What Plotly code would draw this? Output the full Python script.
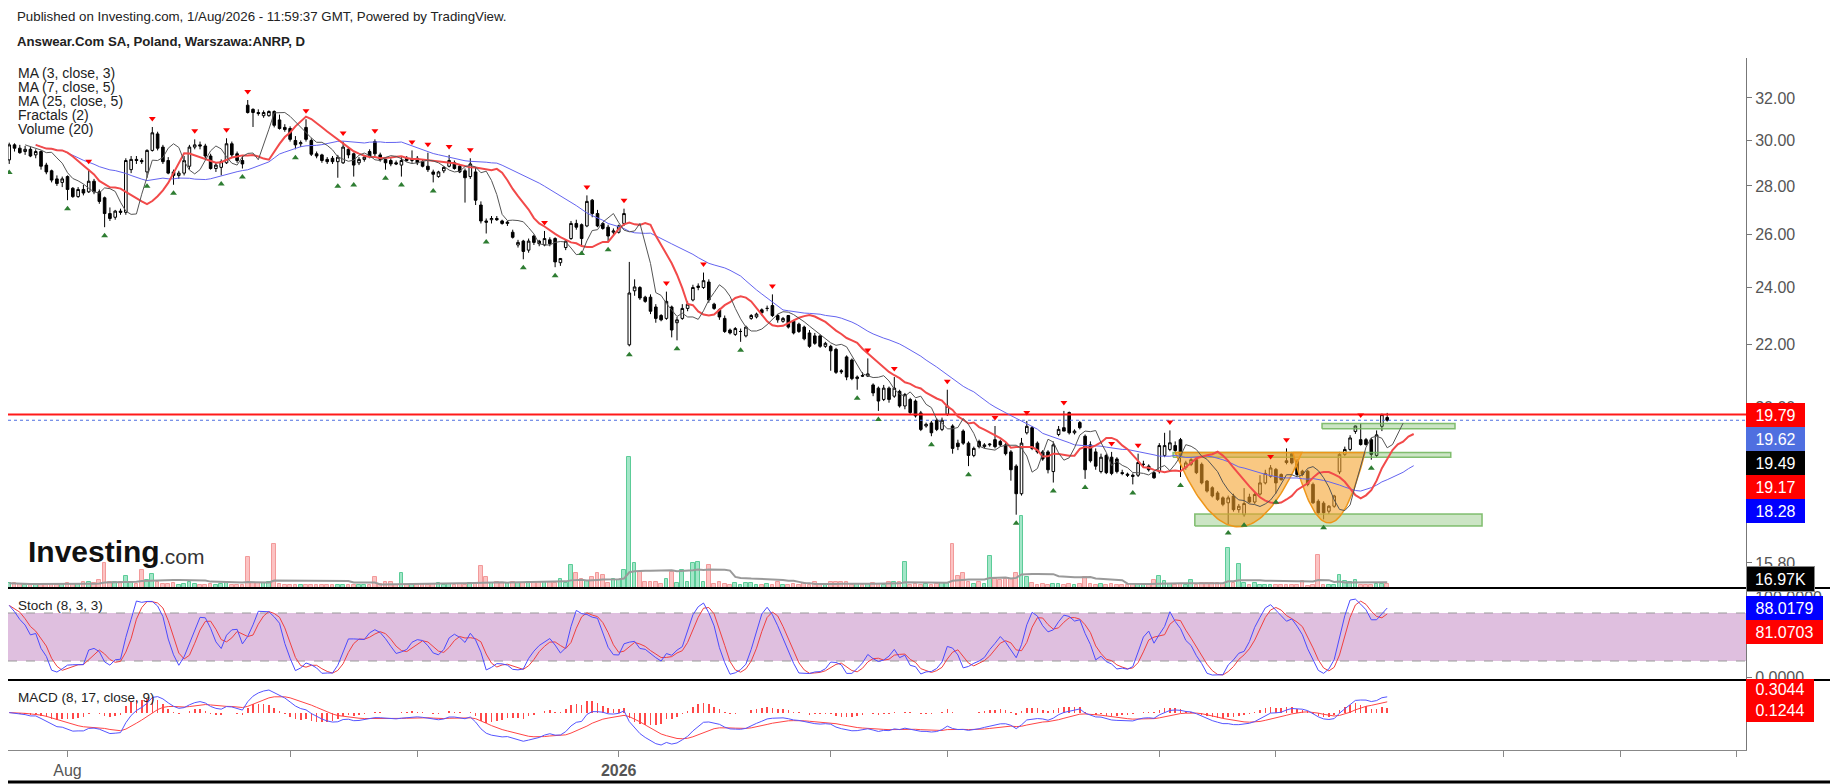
import numpy as np
import pandas as pd
import plotly.graph_objects as go

# daily candles, Answear.Com SA (ANRP), mid Jul 2025 -> end Jul 2026
opens = [
    29.13, 29.80, 29.65, 29.50, 29.60, 29.35, 29.50, 28.90, 28.65, 28.30,  # 0
    28.15, 28.40, 27.90, 27.55, 27.85, 27.75, 28.20, 27.75, 27.50, 26.85,  # 10
    26.70, 26.95, 26.90, 28.70, 29.15, 29.10, 28.60, 29.55, 30.30, 29.70,  # 20
    29.10, 28.60, 28.45, 28.55, 28.85, 29.70, 29.80, 29.75, 29.30, 28.75,  # 30
    28.80, 29.00, 29.85, 29.40, 29.10, 31.65, 31.45, 31.30, 31.15, 31.15,  # 40
    31.35, 30.95, 30.60, 30.55, 30.00, 29.85, 30.60, 30.00, 29.40, 29.35,  # 50
    29.15, 29.20, 29.05, 29.00, 29.60, 29.40, 29.00, 29.15, 29.50, 29.95,  # 60
    29.35, 29.15, 29.10, 29.00, 28.90, 29.20, 29.10, 29.20, 29.05, 28.85,  # 70
    28.60, 28.40, 28.65, 28.85, 29.00, 28.85, 28.65, 28.40, 28.60, 27.20,  # 80
    26.55, 26.60, 26.65, 26.55, 26.45, 26.10, 25.60, 25.75, 25.40, 25.95,  # 90
    25.75, 25.60, 25.80, 25.85, 24.92, 25.50, 25.85, 26.45, 26.40, 26.35,  # 100
    27.40, 26.85, 26.45, 26.30, 26.10, 26.10, 26.45, 22.00, 23.88, 24.00,  # 110
    23.65, 23.65, 23.30, 23.00, 22.90, 23.30, 22.75, 22.90, 23.25, 23.55,  # 120
    24.00, 24.00, 24.20, 23.40, 23.20, 22.90, 22.50, 22.35, 22.45, 22.30,  # 130
    22.90, 22.95, 23.20, 23.25, 23.35, 23.00, 22.80, 23.00, 22.80, 22.70,  # 140
    22.60, 22.40, 22.30, 22.30, 21.95, 21.95, 21.85, 21.15, 21.60, 21.50,  # 150
    20.90, 21.00, 20.98, 20.70, 20.60, 20.25, 20.60, 20.35, 20.50, 20.05,  # 160
    20.25, 20.20, 19.84, 19.45, 19.54, 19.62, 19.35, 19.80, 19.45, 18.95,  # 170
    19.30, 18.95, 18.60, 19.00, 18.85, 18.90, 19.05, 19.00, 18.90, 18.70,  # 180
    18.30, 17.55, 19.25, 19.40, 18.95, 18.70, 18.70, 18.15, 19.20, 19.40,  # 190
    19.85, 19.25, 19.55, 19.15, 18.90, 18.70, 18.15, 18.60, 18.55, 18.50,  # 200
    18.12, 18.08, 18.05, 18.05, 18.35, 18.30, 18.12, 18.15, 18.60, 18.77,  # 210
    18.88, 19.05, 18.26, 18.35, 18.48, 18.35, 17.89, 17.71, 17.57, 17.44,  # 220
    17.31, 17.49, 17.13, 17.00, 17.46, 17.33, 17.54, 17.84, 18.02, 18.21,  # 230
    18.07, 18.45, 18.65, 18.44, 18.16, 18.16, 17.80, 17.35, 17.30, 17.09,  # 240
    17.22, 18.14, 18.63, 18.77, 19.29, 19.05, 19.05, 19.05, 18.60, 19.44,  # 250
    19.70,
]
highs = [
    29.90, 29.87, 29.80, 29.75, 29.70, 29.60, 29.55, 29.00, 28.70, 28.45,
    28.40, 28.45, 27.95, 27.95, 28.05, 28.70, 28.30, 27.85, 27.55, 27.10,
    27.00, 27.05, 29.20, 29.30, 29.30, 29.20, 29.60, 30.62, 30.40, 29.80,
    29.25, 28.70, 28.65, 29.30, 29.80, 30.05, 29.95, 29.85, 29.40, 29.00,
    29.15, 30.10, 29.95, 29.50, 29.30, 31.90, 31.50, 31.45, 31.40, 31.40,
    31.40, 31.20, 30.75, 30.65, 30.20, 30.00, 30.98, 30.10, 29.50, 29.40,
    29.25, 29.30, 29.35, 29.95, 29.70, 29.45, 29.25, 29.35, 29.60, 30.05,
    29.45, 29.20, 29.20, 29.10, 29.25, 29.30, 29.55, 29.30, 29.15, 29.45,
    28.70, 28.65, 28.85, 29.35, 29.10, 28.95, 28.75, 29.20, 28.80, 27.35,
    26.65, 26.75, 26.75, 26.60, 26.55, 26.20, 25.80, 25.80, 25.85, 26.00,
    25.80, 26.15, 25.90, 25.90, 25.10, 25.80, 26.55, 26.60, 26.45, 27.60,
    27.45, 27.00, 26.50, 26.40, 26.25, 26.40, 27.05, 24.95, 24.30, 24.05,
    23.70, 23.75, 23.40, 23.05, 23.85, 23.35, 22.95, 23.40, 23.50, 24.10,
    24.15, 24.55, 24.30, 23.45, 23.25, 23.00, 22.55, 22.60, 22.55, 22.65,
    23.05, 23.10, 23.25, 23.35, 23.75, 23.05, 22.95, 23.02, 22.85, 22.75,
    22.65, 22.50, 22.40, 22.35, 22.10, 22.00, 21.90, 21.20, 21.65, 21.55,
    21.00, 21.10, 21.55, 20.75, 20.65, 20.70, 20.65, 20.95, 20.55, 20.45,
    20.30, 20.25, 19.90, 19.55, 19.60, 19.68, 19.70, 20.55, 19.50, 19.05,
    19.35, 19.00, 18.85, 19.05, 18.95, 18.95, 19.45, 19.05, 18.95, 18.75,
    18.35, 19.10, 19.60, 19.45, 19.00, 18.75, 18.75, 19.00, 19.45, 19.90,
    19.88, 19.35, 19.60, 19.20, 19.00, 18.80, 18.65, 18.65, 18.70, 18.55,
    18.20, 18.12, 18.10, 18.65, 18.45, 18.35, 18.15, 18.95, 19.25, 19.32,
    19.00, 19.10, 18.45, 18.52, 18.52, 18.40, 17.92, 17.75, 17.62, 17.48,
    17.50, 17.55, 17.28, 17.70, 17.55, 17.58, 18.05, 18.20, 18.33, 18.25,
    18.10, 18.80, 18.70, 18.50, 18.20, 18.20, 17.85, 17.40, 17.35, 17.25,
    17.52, 18.70, 18.85, 19.18, 19.46, 19.52, 19.10, 19.10, 19.32, 19.82,
    19.84,
]
lows = [
    28.95, 29.50, 29.40, 29.35, 29.25, 29.20, 28.70, 28.50, 28.15, 28.00,
    27.95, 27.40, 27.50, 27.50, 27.60, 27.70, 27.65, 27.25, 26.30, 26.55,
    26.60, 26.80, 26.80, 28.55, 28.95, 28.95, 28.35, 29.50, 29.55, 28.95,
    28.50, 28.05, 28.30, 28.45, 28.70, 29.60, 29.60, 29.20, 28.70, 28.60,
    28.45, 28.95, 29.25, 29.00, 28.75, 31.25, 30.62, 31.15, 31.05, 31.10,
    30.60, 30.50, 30.40, 29.95, 29.60, 29.70, 29.95, 29.30, 29.20, 29.00,
    28.95, 28.95, 28.35, 28.95, 29.20, 28.40, 28.90, 29.05, 29.20, 29.30,
    29.05, 28.70, 28.85, 28.90, 28.40, 29.05, 29.00, 28.90, 28.80, 28.60,
    28.15, 28.35, 28.55, 28.80, 28.70, 28.55, 27.30, 28.30, 27.20, 26.45,
    26.05, 26.45, 26.55, 26.40, 26.35, 25.85, 25.50, 25.05, 25.30, 25.60,
    25.55, 25.55, 25.55, 24.75, 24.80, 25.40, 25.80, 26.20, 25.60, 26.30,
    26.70, 26.30, 26.20, 25.75, 26.00, 26.05, 26.35, 21.95, 23.70, 23.55,
    23.45, 23.05, 22.75, 22.80, 22.85, 22.25, 22.15, 22.85, 23.15, 23.50,
    23.90, 23.95, 23.45, 23.20, 22.85, 22.40, 22.35, 22.30, 22.10, 22.25,
    22.85, 22.90, 23.00, 23.15, 22.95, 22.75, 22.75, 22.55, 22.35, 22.40,
    22.15, 21.90, 22.00, 21.90, 21.90, 21.15, 21.05, 21.05, 20.85, 20.85,
    20.55, 20.95, 20.95, 20.35, 19.90, 20.20, 20.15, 20.30, 20.00, 19.95,
    19.80, 19.70, 19.30, 19.40, 19.15, 19.30, 19.30, 19.75, 18.65, 18.75,
    18.90, 18.30, 18.55, 18.80, 18.80, 18.85, 18.80, 18.85, 18.60, 17.90,
    17.00, 17.50, 19.20, 18.75, 18.65, 18.45, 18.10, 17.85, 19.15, 19.30,
    19.20, 19.20, 19.35, 17.95, 18.40, 18.20, 18.10, 18.08, 18.05, 18.10,
    18.05, 18.00, 17.80, 18.00, 18.25, 18.15, 17.95, 18.10, 18.55, 18.72,
    18.70, 18.00, 18.20, 18.30, 18.08, 17.80, 17.58, 17.45, 17.36, 17.22,
    16.75, 17.08, 17.05, 16.95, 17.30, 17.28, 17.50, 17.80, 17.98, 17.55,
    17.90, 18.35, 18.35, 18.02, 18.02, 17.75, 17.28, 17.00, 16.88, 17.02,
    17.18, 18.08, 18.58, 18.72, 19.22, 18.88, 18.88, 18.48, 18.55, 19.30,
    19.58,
]
closes = [
    29.80, 29.65, 29.45, 29.60, 29.30, 29.50, 28.85, 28.60, 28.25, 28.10,
    28.30, 27.85, 27.55, 27.85, 27.70, 28.20, 27.75, 27.35, 26.85, 26.65,
    26.95, 26.90, 29.10, 29.15, 29.10, 29.05, 29.55, 30.35, 29.65, 29.05,
    28.55, 28.45, 28.55, 29.10, 29.70, 29.80, 29.75, 29.30, 28.75, 28.90,
    29.05, 29.85, 29.35, 29.10, 28.95, 31.30, 31.30, 31.25, 31.30, 31.35,
    30.70, 30.55, 30.50, 30.05, 29.80, 29.90, 30.05, 29.38, 29.30, 29.10,
    29.05, 29.05, 29.25, 29.70, 29.35, 28.90, 29.15, 29.25, 29.30, 29.40,
    29.15, 29.00, 28.95, 28.95, 29.10, 29.10, 29.15, 29.00, 28.85, 28.70,
    28.50, 28.60, 28.80, 29.10, 28.75, 28.60, 28.35, 28.95, 27.40, 26.55,
    26.50, 26.65, 26.60, 26.45, 26.50, 25.90, 25.70, 25.35, 25.75, 25.70,
    25.65, 25.85, 25.65, 24.95, 25.08, 25.75, 26.45, 26.30, 25.85, 27.35,
    26.85, 26.35, 26.25, 25.95, 26.15, 26.35, 26.85, 23.80, 24.02, 23.62,
    23.50, 23.15, 22.90, 22.85, 23.50, 22.50, 22.85, 23.25, 23.40, 24.00,
    24.05, 24.25, 23.55, 23.25, 22.95, 22.45, 22.40, 22.55, 22.45, 22.60,
    23.00, 23.05, 23.10, 23.25, 23.00, 22.85, 22.90, 22.60, 22.40, 22.45,
    22.20, 21.95, 22.05, 21.95, 22.05, 21.80, 21.10, 21.12, 20.95, 20.90,
    20.95, 20.98, 21.05, 20.45, 20.20, 20.60, 20.25, 20.60, 20.05, 20.40,
    19.85, 19.75, 19.35, 19.50, 19.25, 19.35, 19.62, 20.05, 18.80, 18.85,
    18.95, 18.60, 18.80, 18.85, 18.90, 18.92, 18.85, 18.90, 18.65, 18.20,
    17.55, 18.95, 19.44, 18.80, 18.70, 18.50, 18.20, 18.90, 19.35, 19.30,
    19.25, 19.30, 19.40, 18.20, 18.45, 18.30, 18.55, 18.12, 18.10, 18.15,
    18.10, 18.05, 18.02, 18.40, 18.35, 18.20, 17.98, 18.88, 18.88, 18.96,
    18.74, 18.60, 18.39, 18.48, 18.12, 17.84, 17.62, 17.49, 17.40, 17.27,
    17.44, 17.13, 17.22, 17.29, 17.33, 17.53, 17.84, 18.10, 18.25, 17.84,
    17.93, 18.40, 18.39, 18.07, 18.07, 17.80, 17.31, 17.05, 17.05, 17.22,
    17.49, 18.63, 18.77, 19.10, 19.45, 18.91, 18.91, 18.63, 19.19, 19.79,
    19.62,
]
# volume in thousands of shares
volumes_k = [
    9, 9, 8, 6, 6, 7, 7, 6, 7, 6,
    7, 9, 8, 8, 12, 12, 10, 16, 47, 12,
    11, 12, 23, 12, 8, 35, 15, 27, 12, 8,
    7, 9, 6, 8, 12, 7, 6, 6, 7, 6,
    7, 9, 6, 6, 6, 59, 10, 9, 9, 12,
    84, 8, 6, 6, 5, 6, 6, 5, 5, 6,
    5, 6, 6, 6, 5, 6, 6, 5, 6, 20,
    7, 12, 12, 6, 28, 6, 7, 6, 8, 6,
    7, 9, 6, 7, 6, 8, 6, 9, 10, 42,
    21, 10, 11, 9, 10, 11, 10, 9, 12, 12,
    11, 12, 12, 9, 17, 9, 44, 28, 18, 14,
    21, 28, 24, 10, 17, 16, 34, 249, 47, 30,
    12, 12, 11, 8, 18, 31, 10, 34, 12, 48,
    50, 12, 44, 8, 12, 8, 6, 9, 6, 9,
    9, 5, 6, 7, 6, 12, 5, 6, 7, 5,
    9, 6, 12, 8, 5, 12, 12, 11, 12, 6,
    7, 6, 8, 9, 7, 6, 12, 12, 11, 50,
    6, 7, 6, 8, 6, 7, 9, 9, 84, 23,
    29, 12, 7, 12, 8, 61, 17, 16, 18, 17,
    29, 137, 21, 9, 6, 7, 6, 8, 7, 6,
    7, 6, 8, 21, 7, 6, 8, 6, 7, 6,
    6, 6, 7, 8, 6, 7, 15, 23, 13, 8,
    6, 7, 6, 15, 6, 9, 10, 9, 10, 8,
    76, 9, 46, 10, 6, 10, 6, 6, 6, 5,
    5, 6, 5, 6, 13, 3, 6, 63, 6, 6,
    5, 24, 13, 12, 16, 5, 5, 5, 8, 8, 8,
]
# bars carrying a Williams fractal mark
up_fractals = [15, 27, 35, 41, 45, 56, 63, 69, 76, 79, 83, 87, 101, 109, 116, 124, 131,
               144, 162, 167, 177, 186, 192, 199, 208, 213, 219, 238, 241, 255]
down_fractals = [0, 11, 18, 26, 31, 40, 44, 54, 62, 65, 71, 74, 80, 90, 97, 103, 108, 113,
                 117, 126, 138, 160, 164, 174, 181, 190, 197, 203, 212, 221, 230, 233, 239,
                 248, 257]

# x axis ticks (bar index) and their labels
tick_pos = [11, 53, 77, 115, 155, 177, 217, 239, 282, 304, 326]
tick_text = ["Aug", "", "", "<b>2026</b>", "", "", "", "", "", "", ""]
price_ticks = [15.8, 20, 22, 24, 26, 28, 30, 32]

# drawings on the chart
resistance = 19.79
last_close = 19.62
zone_x0 = [247.7, 219.6, 223.7]
zone_x1 = [272.8, 272.0, 277.9]
zone_lo = [19.37, 18.55, 16.71]
zone_hi = [19.52, 18.68, 17.02]
cup_x0 = [220.0, 242.2]
cup_x1 = [243.9, 255.8]
cup_rim = [18.68, 18.68]
cup_bottom = [16.69, 16.79]

# last value labels on the right scale
main_labels = ["19.79", "19.62", "19.49", "19.17", "18.28"]
main_label_bg = ["#ff0000", "#4f6fe0", "#000000", "#ff0000", "#0000ff"]
volume_label = "16.97K"
stoch_labels = ["88.0179", "81.0703"]
stoch_label_bg = ["#0000ff", "#ff0000"]
macd_labels = ["0.3044", "0.1244"]

n = len(closes)
assert len(opens) == n and len(highs) == n and len(lows) == n and len(volumes_k) == n
idx = np.arange(n)

# ---- indicators
c = pd.Series(closes)
hi_s = pd.Series(highs)
lo_s = pd.Series(lows)
ma3 = c.rolling(3, min_periods=1).mean()
ma7 = c.rolling(7, min_periods=1).mean()
ma25 = c.rolling(25, min_periods=1).mean()
vol_ma = pd.Series(volumes_k).rolling(20, min_periods=1).mean()

hh = hi_s.rolling(8, min_periods=1).max()
ll = lo_s.rolling(8, min_periods=1).min()
raw_k = 100 * (c - ll) / (hh - ll)
stoch_k = raw_k.rolling(3, min_periods=1).mean()
stoch_d = stoch_k.rolling(3, min_periods=1).mean()

ema_fast = c.ewm(span=8, adjust=False).mean()
ema_slow = c.ewm(span=17, adjust=False).mean()
macd = ema_fast - ema_slow
signal = macd.ewm(span=9, adjust=False).mean()
hist = macd - signal

# ---- geometry: the page body has an 8px margin, so the figure sits at (8, 8)
PAGE_W, PAGE_H, BODY = 1838, 784, 8
W, H = PAGE_W - BODY, PAGE_H - BODY
PLOT_L, PLOT_R, PLOT_T, PLOT_B = 8, 1746, 58, 750   # page pixels of the plot area
ML, MR = PLOT_L - BODY, PAGE_W - PLOT_R
MT, MB = PLOT_T - BODY, PAGE_H - PLOT_B


def px(x):
    return (x - PLOT_L) / (PLOT_R - PLOT_L)


def py(y):
    return (PLOT_B - y) / (PLOT_B - PLOT_T)


X_RANGE = [-0.23, 327.7]
FONT = "Liberation Sans, Arial, sans-serif"

fig = go.Figure()

# zones and cups (under the candles)
for x0, x1, lo, hi in zip(zone_x0, zone_x1, zone_lo, zone_hi):
    fig.add_trace(go.Scatter(
        x=[x0, x1, x1, x0, x0], y=[lo, lo, hi, hi, lo], mode="lines",
        fill="toself", fillcolor="rgba(110,180,90,0.35)",
        line=dict(color="rgba(110,180,90,0.85)", width=1.5), yaxis="y", hoverinfo="skip"))

for x0, x1, rim, bot in zip(cup_x0, cup_x1, cup_rim, cup_bottom):
    t = np.linspace(-1, 1, 61)
    xs = (x0 + x1) / 2 + t * (x1 - x0) / 2
    lr, lb = np.log10(rim), np.log10(bot)
    ys = 10 ** (lr - (lr - lb) * (1 - t ** 2))
    fig.add_trace(go.Scatter(
        x=list(xs) + [xs[0]], y=list(ys) + [ys[0]], mode="lines",
        fill="toself", fillcolor="rgba(245,160,40,0.58)",
        line=dict(color="rgba(238,150,25,1)", width=1.5), yaxis="y", hoverinfo="skip"))

# horizontal lines
fig.add_trace(go.Scatter(x=X_RANGE, y=[resistance, resistance], mode="lines",
                         line=dict(color="#ff1a1a", width=2), yaxis="y", hoverinfo="skip"))
fig.add_trace(go.Scatter(x=X_RANGE, y=[last_close, last_close], mode="lines",
                         line=dict(color="#4f6fe0", width=1, dash="dot"), yaxis="y", hoverinfo="skip"))

# volume (bottom of main pane)
vol_up = [cl >= op for op, cl in zip(opens, closes)]
fig.add_trace(go.Bar(
    x=idx, y=volumes_k, width=0.7, yaxis="y2",
    marker=dict(color=["#a3e6c8" if u else "#fcc3c3" for u in vol_up],
                line=dict(color=["#5ccc98" if u else "#f29a9a" for u in vol_up], width=1)),
    hoverinfo="skip"))
fig.add_trace(go.Scatter(x=idx, y=vol_ma, mode="lines", line=dict(color="#9a9a9a", width=2),
                         yaxis="y2", hoverinfo="skip"))

# moving averages with their forward offsets
fig.add_trace(go.Scatter(x=idx + 5, y=ma25, mode="lines", line=dict(color="#6464f0", width=1),
                         yaxis="y", hoverinfo="skip"))
fig.add_trace(go.Scatter(x=idx + 5, y=ma7, mode="lines", line=dict(color="#f24a4a", width=2),
                         yaxis="y", hoverinfo="skip"))
fig.add_trace(go.Scatter(x=idx + 3, y=ma3, mode="lines", line=dict(color="#555555", width=1),
                         yaxis="y", hoverinfo="skip"))

# candles
fig.add_trace(go.Candlestick(
    x=idx, open=opens, high=highs, low=lows, close=closes, yaxis="y",
    increasing=dict(line=dict(color="black", width=1), fillcolor="white"),
    decreasing=dict(line=dict(color="black", width=1), fillcolor="black"),
    whiskerwidth=0, hoverinfo="skip"))

# fractals
fig.add_trace(go.Scatter(
    x=up_fractals, y=[highs[i] * 1.013 for i in up_fractals], mode="markers",
    marker=dict(symbol="triangle-down", size=6, color="#ff0000"), yaxis="y", hoverinfo="skip"))
fig.add_trace(go.Scatter(
    x=down_fractals, y=[lows[i] / 1.013 for i in down_fractals], mode="markers",
    marker=dict(symbol="triangle-up", size=6, color="#2e7d32"), yaxis="y", hoverinfo="skip"))

# stochastic pane
fig.add_trace(go.Scatter(x=[X_RANGE[0], X_RANGE[1], X_RANGE[1], X_RANGE[0], X_RANGE[0]],
                         y=[20, 20, 80, 80, 20], mode="lines", fill="toself",
                         fillcolor="#dfbfdf", line=dict(width=0), yaxis="y3", hoverinfo="skip"))
for lvl in (20, 80):
    fig.add_trace(go.Scatter(x=X_RANGE, y=[lvl, lvl], mode="lines",
                             line=dict(color="#999999", width=1, dash="dash"), yaxis="y3",
                             hoverinfo="skip"))
fig.add_trace(go.Scatter(x=idx, y=stoch_d, mode="lines", line=dict(color="#f04040", width=1),
                         yaxis="y3", hoverinfo="skip"))
fig.add_trace(go.Scatter(x=idx, y=stoch_k, mode="lines", line=dict(color="#4b4bff", width=1),
                         yaxis="y3", hoverinfo="skip"))

# MACD pane
fig.add_trace(go.Bar(x=idx, y=hist, width=0.3, marker=dict(color="rgba(255,40,40,0.85)", line=dict(width=0)),
                     yaxis="y4", hoverinfo="skip"))
fig.add_trace(go.Scatter(x=idx, y=signal, mode="lines", line=dict(color="#ff4545", width=1),
                         yaxis="y4", hoverinfo="skip"))
fig.add_trace(go.Scatter(x=idx, y=macd, mode="lines", line=dict(color="#5555ff", width=1),
                         yaxis="y4", hoverinfo="skip"))

m_lo = min(macd.min(), signal.min(), hist.min())
m_hi = max(macd.max(), signal.max(), hist.max())
span = (m_hi - m_lo) / (60 / 70 - 5 / 70)
macd_range = [m_lo - span * 5 / 70, m_lo - span * 5 / 70 + span]

axis_common = dict(showgrid=False, zeroline=False, showline=True, linecolor="#777777",
                   linewidth=1, ticks="outside", ticklen=5, tickcolor="#777777",
                   tickfont=dict(family=FONT, size=16, color="#555555"), side="right",
                   anchor="x", fixedrange=True)

fig.update_layout(
    width=W, height=H, margin=dict(l=ML, r=MR, t=MT, b=MB),
    paper_bgcolor="white", plot_bgcolor="white", showlegend=False,
    hovermode=False, bargap=0,
    xaxis=dict(range=X_RANGE, anchor="y4", showgrid=False, zeroline=False, showline=True,
               linecolor="#888888", ticks="outside", ticklen=6, tickcolor="#888888",
               tickvals=tick_pos, ticktext=tick_text, rangeslider=dict(visible=False),
               tickfont=dict(family=FONT, size=16, color="#555555")),
    yaxis=dict(axis_common, type="log", domain=[py(588), 1.0],
               range=[np.log10(15.21), np.log10(34.0)],
               tickvals=price_ticks, ticktext=["%.2f" % v for v in price_ticks]),
    yaxis2=dict(overlaying="y", range=[0, 530 * 1.9], visible=False, fixedrange=True),
    yaxis3=dict(axis_common, domain=[py(680), py(588)], range=[-3.75, 111.25],
                tickvals=[0, 100], ticktext=["0.0000", "100.0000"]),
    yaxis4=dict(axis_common, domain=[0, py(680)], range=macd_range, showticklabels=False,
                ticks=""),
)

# pane separators and bottom rule
for y, w in ((588, 2), (680, 2), (782, 3)):
    fig.add_shape(type="line", xref="paper", yref="paper", x0=px(0), x1=px(PAGE_W),
                  y0=py(y), y1=py(y), line=dict(color="black", width=w))


def text(x, y, s, size=13, color="#222222", bold=False):
    fig.add_annotation(xref="paper", yref="paper", x=px(x), y=py(y), text=f"<b>{s}</b>" if bold else s,
                       showarrow=False, xanchor="left", yanchor="middle",
                       font=dict(family=FONT, size=size, color=color))


text(15, 17, "Published on Investing.com, 1/Aug/2026 - 11:59:37 GMT, Powered by TradingView.", size=13.3)
text(15, 41, "Answear.Com SA, Poland, Warszawa:ANRP, D", size=13.2, bold=True)
legend_lines = ["MA (3, close, 3)", "MA (7, close, 5)", "MA (25, close, 5)", "Fractals (2)", "Volume (20)"]
for k, s in enumerate(legend_lines):
    text(16, 73 + 14 * k, s, size=14)
text(16, 605, "Stoch (8, 3, 3)", size=13.5)
text(16, 697, "MACD (8, 17, close, 9)", size=13.5)
text(26, 551, "Investing", size=30, color="#111111", bold=True)
text(157, 556, ".com", size=21, color="#333333")


def value_label(y, s, bg, w, h=20, border=None):
    fig.add_annotation(xref="paper", yref="paper", x=1.0, y=py(y), text=s, showarrow=False,
                       xanchor="left", yanchor="middle", width=w, height=h, align="center",
                       bgcolor=bg, borderpad=2, bordercolor=border or bg, borderwidth=1 if border else 0,
                       font=dict(family=FONT, size=16, color="white"))


for k, (s, bg) in enumerate(zip(main_labels, main_label_bg)):
    value_label(415 + 24 * k, s, bg, 55)
value_label(579, volume_label, "#000000", 63, border="#888888")
for k, (s, bg) in enumerate(zip(stoch_labels, stoch_label_bg)):
    value_label(608 + 24 * k, s, bg, 73)
value_label(689, macd_labels[0], "#ff0000", 64, h=16)
value_label(710, macd_labels[1], "#ff0000", 64)

fig.write_html("out.html")
